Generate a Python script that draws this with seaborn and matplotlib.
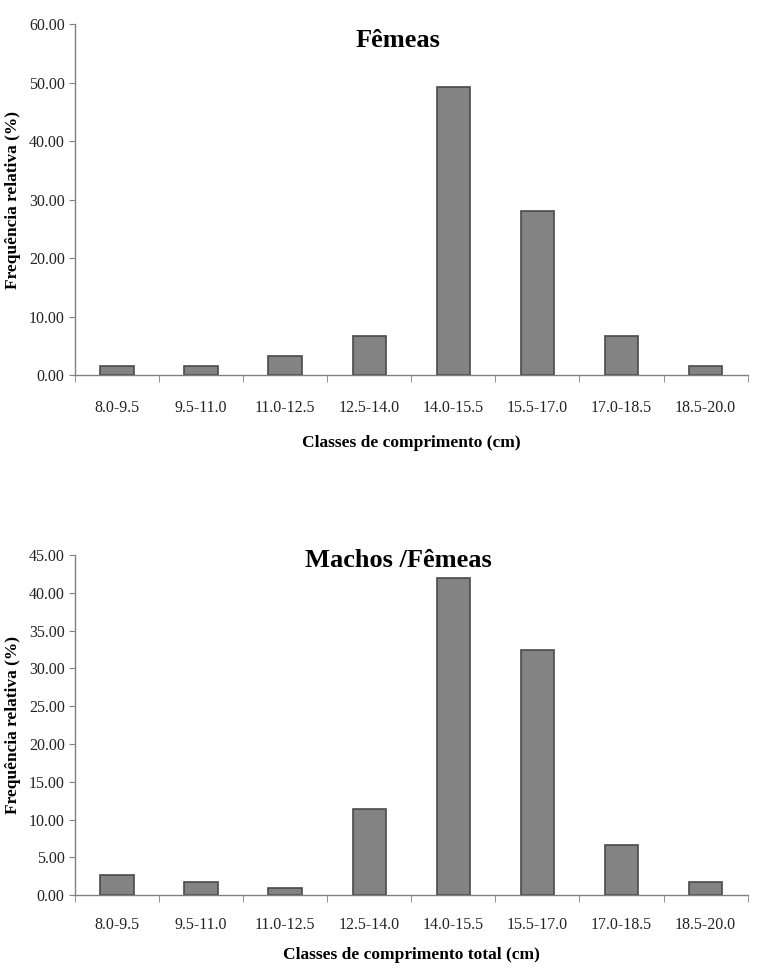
import pandas as pd
import seaborn as sns
import matplotlib.pyplot as plt
from matplotlib.ticker import FixedLocator

# Length classes and relative frequencies (%)
classes = ['8.0-9.5', '9.5-11.0', '11.0-12.5', '12.5-14.0',
           '14.0-15.5', '15.5-17.0', '17.0-18.5', '18.5-20.0']
femeas = [1.6, 1.6, 3.3, 6.7, 49.2, 28.0, 6.7, 1.6]
machos_femeas = [2.6, 1.8, 0.9, 11.4, 42.0, 32.4, 6.6, 1.8]

sns.set_style('white')
plt.rcParams['font.family'] = ['Liberation Serif', 'DejaVu Serif']

fig = plt.figure(figsize=(7.59, 9.74), dpi=100)
ax1 = fig.add_axes([0.099, 0.615, 0.886, 0.36])
ax2 = fig.add_axes([0.099, 0.081, 0.886, 0.349])

panels = [
    (ax1, femeas, 'Fêmeas', 'Classes de comprimento (cm)', 60, 10, 0.955, 18, 14),
    (ax2, machos_femeas, 'Machos /Fêmeas', 'Classes de comprimento total (cm)', 45, 5, 0.985, 16, 10),
]

for ax, vals, title, xlabel, ymax, step, ty, tpad, lpad in panels:
    df = pd.DataFrame({'classe': classes, 'freq': vals})
    sns.barplot(data=df, x='classe', y='freq', ax=ax, color='#838383',
                width=0.4, edgecolor='#4a4a4a', linewidth=1.2, saturation=1)
    ax.set_ylim(0, ymax)
    ax.set_xlim(-0.5, len(classes) - 0.5)
    ax.set_yticks([i * step for i in range(int(ymax / step) + 1)])
    ax.set_yticklabels([f'{i * step:.2f}' for i in range(int(ymax / step) + 1)])
    ax.xaxis.set_minor_locator(FixedLocator([i - 0.5 for i in range(len(classes) + 1)]))
    ax.tick_params(axis='x', which='major', length=0, pad=tpad, labelsize=11.5, labelcolor='#222222')
    ax.tick_params(axis='x', which='minor', length=5, color='#808080', direction='out', bottom=True)
    ax.tick_params(axis='y', length=4, color='#808080', direction='out', left=True,
                   labelsize=11.5, labelcolor='#222222')
    sns.despine(ax=ax)
    for s in ['left', 'bottom']:
        ax.spines[s].set_color('#808080')
        ax.spines[s].set_linewidth(1.0)
    ax.set_xlabel(xlabel, fontsize=12.5, fontweight='bold', labelpad=lpad, color='black')
    ax.set_ylabel('Frequência relativa (%)', fontsize=12.5, fontweight='bold', labelpad=6, color='black')
    ax.text(0.48, ty, title, transform=ax.transAxes, ha='center', va='center',
            fontsize=19, fontweight='bold', color='black')

fig.savefig('out.png', dpi=100)
